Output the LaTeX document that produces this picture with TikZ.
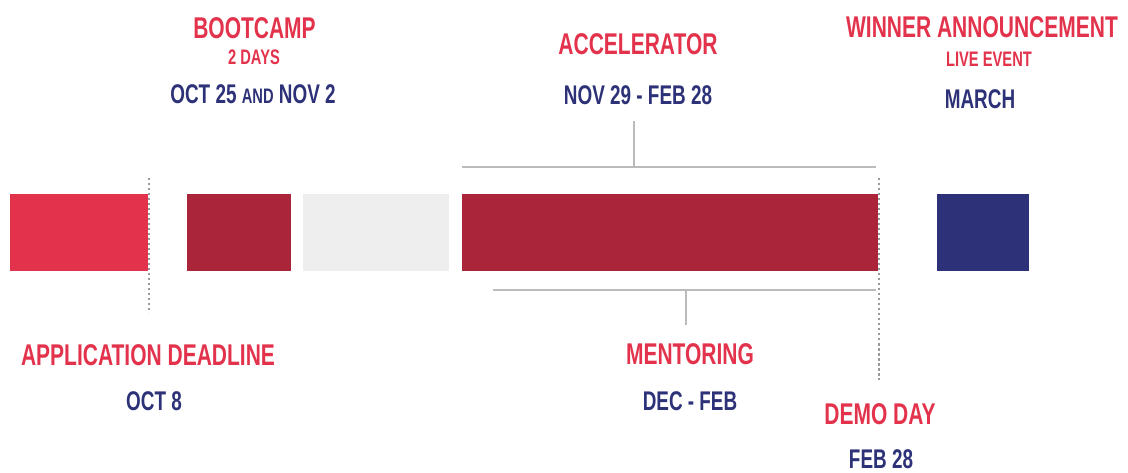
\documentclass[tikz,border=0pt]{standalone}
\usepackage{fontspec}
\newfontfamily\cond{Liberation Sans}[FakeStretch=0.7]
\definecolor{cred}{HTML}{E3334C}
\definecolor{cdark}{HTML}{AA2539}
\definecolor{cgray}{HTML}{EEEEEE}
\definecolor{cblue}{HTML}{2D3177}
\definecolor{cline}{HTML}{BBBBBB}
\definecolor{cdot}{HTML}{999999}
\tikzset{
  bar/.style={draw=none, inner sep=0, minimum height=77pt},
  title/.style={inner sep=0, text=cred, font=\cond\bfseries\fontsize{30}{30}\selectfont},
  sub/.style={inner sep=0, text=cred, font=\cond\bfseries\fontsize{21}{21}\selectfont},
  date/.style={inner sep=0, text=cblue, font=\cond\bfseries\fontsize{27}{27}\selectfont},
  bracket/.style={draw=cline, line width=2pt},
  marker/.style={draw=cdot, line width=1.6pt, dash pattern=on 2.5pt off 2.5pt},
}
\begin{document}
\begin{tikzpicture}[x=1pt,y=-1pt]
\useasboundingbox (0,0) rectangle (1128,473);
% bars
\node[bar, fill=cred,  minimum width=138pt] (b1) at (79,232.5) {};
\node[bar, fill=cdark, minimum width=104pt] (b2) at (239,232.5) {};
\node[bar, fill=cgray, minimum width=146pt] (b3) at (376,232.5) {};
\node[bar, fill=cdark, minimum width=416pt] (b4) at (670,232.5) {};
\node[bar, fill=cblue, minimum width=92pt]  (b5) at (983,232.5) {};
% dotted markers
\coordinate (d1t) at (149,178); \coordinate (d1b) at (149,313);
\coordinate (d2t) at (879,178); \coordinate (d2b) at (879,380);
\draw[marker] (d1t) -- (d1b);
\draw[marker] (d2t) -- (d2b);
% brackets
\coordinate (tl) at (462,167); \coordinate (tr) at (876,167);
\coordinate (tm) at (634,167); \coordinate (tt) at (634,121);
\draw[bracket] (tl) -- (tr);
\draw[bracket] (tm) -- (tt);
\coordinate (bl) at (493,290); \coordinate (br) at (876,290);
\coordinate (bm) at (686,290); \coordinate (bb) at (686,325);
\draw[bracket] (bl) -- (br);
\draw[bracket] (bm) -- (bb);
% texts
\node[title] (t1) at (254.5,28) {BOOTCAMP};
\node[sub]   (t1s) at (254,57) {2 DAYS};
\node[date]  (t1d) at (253,94.5) {OCT 25 {\fontsize{21}{21}\selectfont AND} NOV 2};
\node[title] (t2) at (638,44) {ACCELERATOR};
\node[date]  (t2d) at (638,95) {NOV 29 - FEB 28};
\node[title] (t3) at (982,27) {WINNER ANNOUNCEMENT};
\node[sub]   (t3s) at (989,59.5) {LIVE EVENT};
\node[date]  (t3d) at (980,99) {MARCH};
\node[title] (t4) at (148,355.5) {APPLICATION DEADLINE};
\node[date]  (t4d) at (154,401) {OCT 8};
\node[title] (t5) at (690,354.5) {MENTORING};
\node[date]  (t5d) at (690,401) {DEC - FEB};
\node[title] (t6) at (880,414) {DEMO DAY};
\node[date]  (t6d) at (881,459) {FEB 28};
\end{tikzpicture}
\end{document}
